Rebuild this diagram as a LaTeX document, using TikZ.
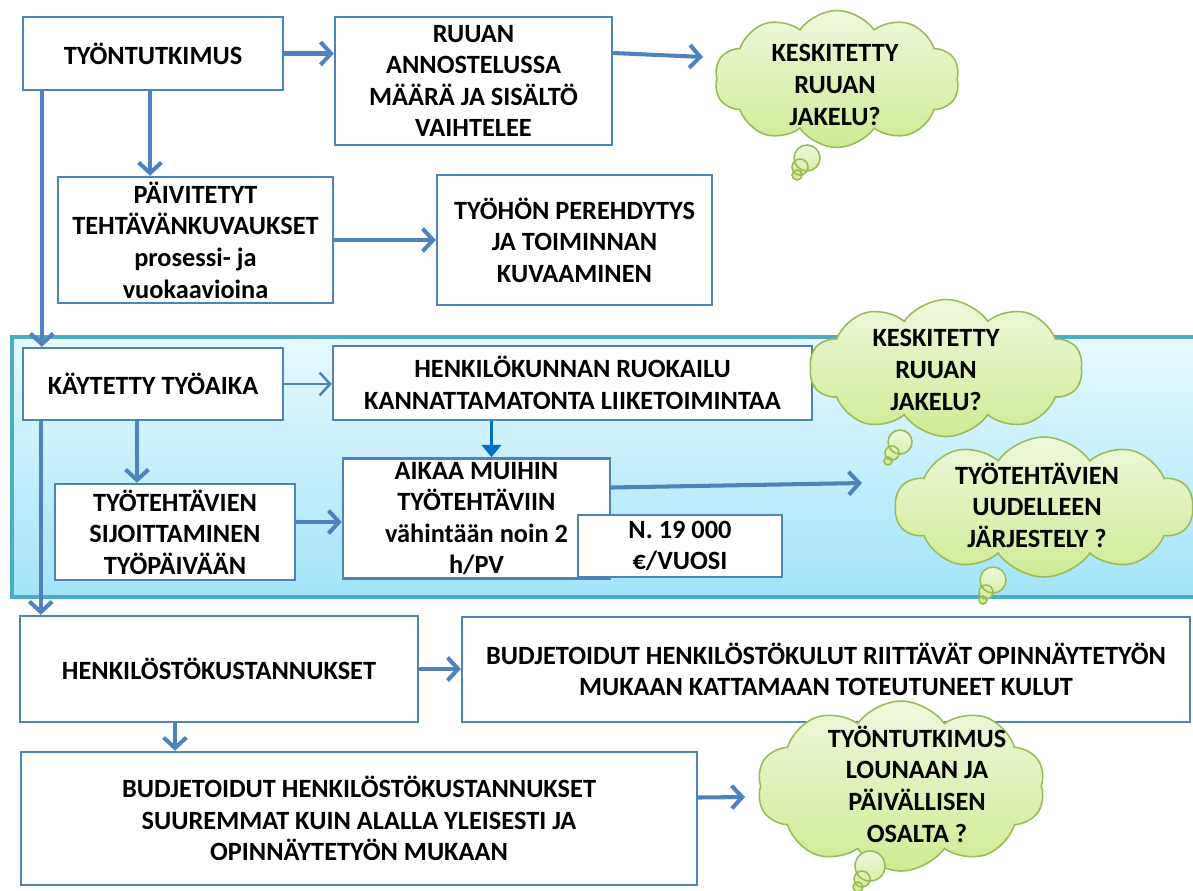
\documentclass[tikz,border=0pt]{standalone}
\usepackage{fontspec}
\setmainfont{Carlito}
\usepackage{tikz}
\usetikzlibrary{positioning, arrows.meta, shapes.symbols, calc}
\definecolor{fBlue}{HTML}{4F81BD}
\definecolor{fDeep}{HTML}{0070C0}
\definecolor{bandLine}{HTML}{4BACC6}
\definecolor{bandTop}{HTML}{E6F9FE}
\definecolor{bandBot}{HTML}{A3E4F8}
\definecolor{tLine}{HTML}{9BBB59}
\definecolor{tTop}{HTML}{EEF8DC}
\definecolor{tBot}{HTML}{CFEB95}
\tikzset{
  stepbox/.style={draw=fBlue, line width=1.4pt, fill=white, align=center,
    inner sep=2pt, font=\bfseries\fontsize{15}{18}\selectfont},
  thought/.style={cloud, cloud puffs=10, cloud puff arc=110, cloud ignores aspect,
    draw=tLine, line width=0.9pt, top color=tTop, bottom color=tBot, inner sep=0pt},
  thoughttext/.style={align=center, font=\bfseries\fontsize{15}{18}\selectfont},
  bubble/.style={draw=tLine, line width=0.9pt, top color=tTop, bottom color=tBot},
  flow/.style={draw=fBlue, line width=2.3pt, -{Straight Barb[length=6pt,width=13pt]}},
}

\begin{document}
\begin{tikzpicture}[x=0.02cm, y=-0.02cm]
  \useasboundingbox (0,0) rectangle (1193,890);
  % band round the working time part
  \draw[draw=bandLine, line width=2.3pt, top color=bandTop, bottom color=bandBot]
    (12,337) rectangle (1200,597);

  \node[stepbox, minimum width=5.2cm, minimum height=1.46cm] (tyon) at (153,53.5) {TYÖNTUTKIMUS};
  \node[stepbox, minimum width=5.54cm, minimum height=2.56cm] (ruuan) at (473.5,81)
    {RUUAN\\ANNOSTELUSSA\\MÄÄRÄ JA SISÄLTÖ\\VAIHTELEE};
  \node[stepbox, minimum width=5.5cm, minimum height=2.52cm] (paiv) at (195.5,240)
    {PÄIVITETYT\\TEHTÄVÄNKUVAUKSET\\prosessi- ja\\vuokaavioina};
  \node[stepbox, minimum width=5.5cm, minimum height=2.6cm] (tyohon) at (574.5,240)
    {TYÖHÖN PEREHDYTYS\\JA TOIMINNAN\\KUVAAMINEN};
  \node[stepbox, minimum width=5.2cm, minimum height=1.44cm] (kaytetty) at (153,384) {KÄYTETTY TYÖAIKA};
  \node[stepbox, minimum width=9.58cm, minimum height=1.48cm] (ruokailu) at (572.5,383)
    {HENKILÖKUNNAN RUOKAILU\\KANNATTAMATONTA LIIKETOIMINTAA};
  \node[stepbox, minimum width=4.8cm, minimum height=1.92cm] (sijoit) at (175,532)
    {TYÖTEHTÄVIEN\\SIJOITTAMINEN\\TYÖPÄIVÄÄN};
  \node[stepbox, minimum width=5.34cm, minimum height=2.38cm] (aikaa) at (476.5,518.5)
    {AIKAA MUIHIN\\TYÖTEHTÄVIIN\\vähintään noin 2\\h/PV};
  \node[stepbox, minimum width=4.08cm, minimum height=1.24cm] (euro) at (680,546) {N. 19 000\\€/VUOSI};
  \node[stepbox, minimum width=7.96cm, minimum height=2.12cm] (kust) at (219,669) {HENKILÖSTÖKUSTANNUKSET};
  \node[stepbox, minimum width=14.56cm, minimum height=2.1cm] (riittaa) at (826,669.5)
    {BUDJETOIDUT HENKILÖSTÖKULUT RIITTÄVÄT OPINNÄYTETYÖN\\MUKAAN KATTAMAAN TOTEUTUNEET KULUT};
  \node[stepbox, minimum width=13.52cm, minimum height=2.66cm] (suurempi) at (359,818.5)
    {BUDJETOIDUT HENKILÖSTÖKUSTANNUKSET\\SUUREMMAT KUIN ALALLA YLEISESTI JA\\OPINNÄYTETYÖN MUKAAN};

  % clouds with their tails
  \node[thought, minimum width=4.9cm, minimum height=2.74cm] (jakelu) at (837,79) {};
  \node[thoughttext] (jakeluT) at (835,85) {KESKITETTY\\RUUAN\\JAKELU?};
  \draw[bubble] (807,158) circle (13) (800,167) circle (8) (797,175) circle (5);
  \node[thought, minimum width=5.46cm, minimum height=2.74cm] (jakelub) at (946,368) {};
  \node[thoughttext] (jakelubT) at (936,370) {KESKITETTY\\RUUAN\\JAKELU?};
  \draw[bubble] (900,442) circle (12) (892,453) circle (7) (888,461) circle (4);
  \node[thought, minimum width=5.96cm, minimum height=2.8cm] (jarj) at (1044,507) {};
  \node[thoughttext] (jarjT) at (1037,505) {TYÖTEHTÄVIEN\\UUDELLEEN\\JÄRJESTELY ?};
  \draw[bubble] (993,580) circle (13) (986,592) circle (7) (983,600) circle (4);
  \node[thought, minimum width=5.76cm, minimum height=3.4cm] (lounas) at (901,786) {};
  \node[thoughttext] (lounasT) at (917,784) {TYÖNTUTKIMUS\\LOUNAAN JA\\PÄIVÄLLISEN\\OSALTA ?};
  \draw[bubble] (870,866) circle (15) (862,879) circle (8) (858,887) circle (5);

  % free ends toward the clouds
  \coordinate (toJakelu) at (703,57);
  \coordinate (toJarj) at (862,483);
  \coordinate (toLounas) at (745,797);

  \draw[flow] (tyon.east) -- (tyon.east -| ruuan.west);
  \draw[flow] ([yshift=0.56cm]ruuan.east) -- (toJakelu);
  \draw[flow] ([xshift=-0.06cm]tyon.south) -- ([xshift=-0.06cm]tyon.south |- paiv.north);
  \draw[flow] (paiv.east) -- (paiv.east -| tyohon.west);
  \draw[flow] ([xshift=0.4cm]tyon.south west) coordinate (t1) -- (t1 |- kaytetty.north);
  \draw[flow, line width=1.4pt] (kaytetty.east) -- (kaytetty.east -| ruokailu.west);
  \draw[draw=fDeep, line width=1.8pt, -{Triangle[length=7pt,width=11pt]}]
    ([xshift=0.3cm]aikaa.north |- ruokailu.south) -- ([xshift=0.3cm]aikaa.north);
  \draw[flow] ([xshift=-0.32cm]kaytetty.south) coordinate (k2) -- (k2 |- sijoit.north);
  \draw[flow] ([yshift=0.2cm]sijoit.east) coordinate (s1) -- (s1 -| aikaa.west);
  \draw[flow] ([yshift=0.62cm]aikaa.east) -- (toJarj);
  \draw[flow] ([xshift=0.38cm]kaytetty.south west) coordinate (k1) -- (k1 |- kust.north);
  \draw[flow] (kust.east) -- (kust.east -| riittaa.west);
  \draw[flow] ([xshift=-0.88cm]kust.south) coordinate (h1) -- (h1 |- suurempi.north);
  \draw[flow] ([yshift=0.42cm]suurempi.east) -- (toLounas);
\end{tikzpicture}
\end{document}
